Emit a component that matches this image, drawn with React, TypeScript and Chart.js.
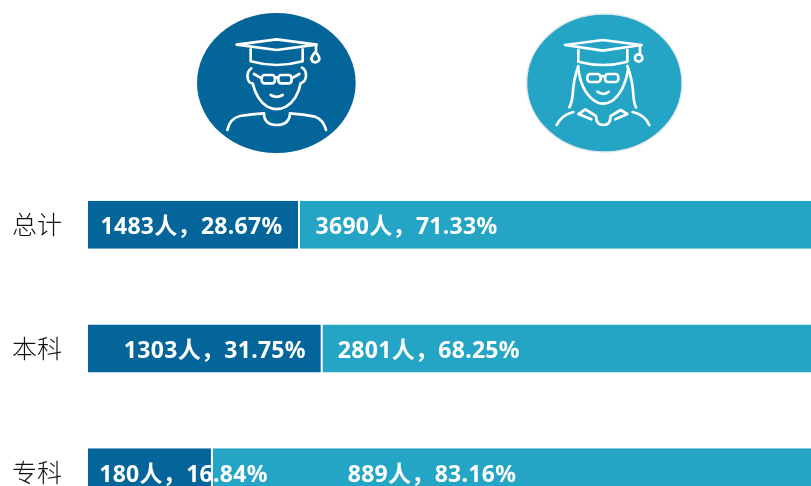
import React, { useEffect, useRef } from "react";
import { Chart, registerables } from "chart.js";

Chart.register(...registerables);

const categories = ["总计", "本科", "专科"];
const maleCounts = [1483, 1303, 180];
const femaleCounts = [3690, 2801, 889];
const malePercents = [28.67, 31.75, 16.84];
const femalePercents = [71.33, 68.25, 83.16];

const DARK = "#03659a";
const LIGHT = "#24a5c6";
// horizontal nudges of the value labels from the centre of their bars, as in the reference
const labelNudge = [[-2, 10, 33.5], [-155, -144, -86]] as number[][];

const label = (count: number, pct: number) => `${count}人，${pct.toFixed(2)}%`;

const valueLabels = {
  id: "valueLabels",
  afterDatasetsDraw(chart: any) {
    const { ctx } = chart;
    ctx.save();
    ctx.fillStyle = "#ffffff";
    ctx.font = 'bold 23px "Noto Sans", "Noto Sans CJK SC", sans-serif';
    ctx.letterSpacing = "0.3px";
    ctx.textAlign = "center";
    ctx.textBaseline = "middle";
    chart.data.datasets.forEach((_ds: any, d: number) => {
      const meta = chart.getDatasetMeta(d);
      meta.data.forEach((bar: any, i: number) => {
        const counts = d === 0 ? maleCounts : femaleCounts;
        const pcts = d === 0 ? malePercents : femalePercents;
        const centre = (bar.base + bar.x) / 2;
        ctx.fillText(label(counts[i], pcts[i]), centre + labelNudge[d][i], bar.y + 3);
      });
    });
    ctx.restore();
  },
};

function MaleIcon() {
  return (
    <svg width={200} height={160} viewBox="0 0 600 480" style={{ position: "absolute", left: 180, top: 0 }}>
      <ellipse cx={289} cy={249} rx={238} ry={210} fill={DARK} />
      <g fill="none" stroke="#fff" strokeWidth={8} strokeLinecap="round" strokeLinejoin="round">
        <path d="M170 134 L290 118 L410 134 L290 150 Z" />
        <path d="M212 148 V184 Q290 206 368 184 V148" />
        <path d="M408 134 V158 Q420 172 418 178 Q414 187 406 187 Q395 186 394 176 Q396 168 404 158" />
        <path d="M214 205 Q198 215 204 238 Q208 250 218 250 Q230 300 262 320 Q290 335 318 320 Q352 300 362 250 Q378 245 378 225 Q378 210 366 203" />
        <rect x={245} y={225} width={40} height={25} rx={9} />
        <rect x={295} y={225} width={40} height={25} rx={9} />
        <path d="M285 234 Q290 230 295 234 M222 222 L245 235 M335 235 L358 222" />
        <path d="M272 285 Q290 296 308 285" />
        <path d="M142 390 Q150 355 180 348 Q215 342 252 340 Q252 375 290 375 Q328 375 330 340 Q370 342 405 350 Q430 358 438 390" />
      </g>
    </svg>
  );
}

function FemaleIcon() {
  return (
    <svg width={200} height={160} viewBox="0 0 600 480" style={{ position: "absolute", left: 510, top: 0 }}>
      <ellipse cx={283} cy={249} rx={233} ry={207} fill={LIGHT} stroke="#dfe5ea" strokeWidth={4} />
      <g fill="none" stroke="#fff" strokeWidth={8} strokeLinecap="round" strokeLinejoin="round">
        <path d="M165 135 L278 120 L395 135 L278 152 Z" />
        <path d="M205 150 V185 Q280 205 352 185 V150" />
        <path d="M390 135 V162" />
        <circle cx={386} cy={174} r={11} />
        <path d="M205 198 Q190 240 188 285 Q185 310 178 322 M352 198 Q368 240 370 285 Q372 310 378 322" />
        <path d="M205 205 Q212 270 250 300 Q278 322 310 300 Q345 270 355 205" />
        <rect x={232} y={222} width={40} height={24} rx={9} />
        <rect x={285} y={222} width={40} height={24} rx={9} />
        <path d="M272 230 Q278 226 285 230" />
        <path d="M262 275 Q280 288 296 275" />
        <path d="M206 342 L226 328 L258 348 Q258 375 280 375 Q302 375 302 348 L332 330 L352 342 L316 358" />
        <path d="M206 342 L244 358" />
        <path d="M140 375 Q155 345 190 336 M368 336 Q405 345 418 375" />
      </g>
    </svg>
  );
}

export default function App() {
  const ref = useRef<HTMLCanvasElement>(null);
  useEffect(() => {
    const chart = new Chart(ref.current as HTMLCanvasElement, {
      type: "bar",
      data: {
        labels: categories,
        datasets: [
          {
            label: "男",
            data: malePercents,
            backgroundColor: DARK,
            borderColor: "#ffffff",
            borderWidth: { right: 1 } as any,
            borderSkipped: false,
          },
          {
            label: "女",
            data: femalePercents,
            backgroundColor: LIGHT,
            borderColor: "#ffffff",
            borderWidth: { left: 1 } as any,
            borderSkipped: false,
          },
        ],
      },
      options: {
        indexAxis: "y",
        animation: false,
        responsive: false,
        maintainAspectRatio: false,
        datasets: { bar: { categoryPercentage: 1, barPercentage: 48 / 123.5 } },
        layout: { padding: { left: 0, right: 0, top: 163, bottom: 0 } },
        plugins: { legend: { display: false }, tooltip: { enabled: false } },
        scales: {
          x: { stacked: true, min: 0, max: 100, display: false },
          y: {
            stacked: true,
            grid: { display: false, drawTicks: false },
            border: { display: false },
            afterFit(scale: any) {
              scale.width = 88;
            },
            ticks: {
              color: "#111111",
              padding: 26,
              font: { family: '"Noto Sans CJK SC", sans-serif', size: 25, weight: "300" },
            },
          },
        },
      },
      plugins: [valueLabels],
    } as any);
    return () => chart.destroy();
  }, []);
  return (
    <div style={{ position: "fixed", left: 0, top: 0, width: 811, height: 486, overflow: "hidden", background: "#fff" }}>
      <canvas ref={ref} width={824} height={575} style={{ position: "absolute", left: 0, top: 0 }} />
      <MaleIcon />
      <FemaleIcon />
    </div>
  );
}
